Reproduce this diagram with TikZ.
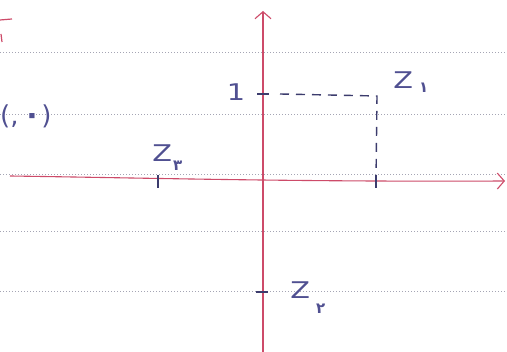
\documentclass[tikz,border=0pt]{standalone}
\usepackage{fontspec}
\setmainfont{DejaVu Sans}
\usetikzlibrary{arrows.meta}
\definecolor{axisred}{RGB}{205,75,105}
\definecolor{ink}{RGB}{80,80,145}
\definecolor{rulegray}{RGB}{165,165,180}
\tikzset{
  ruleline/.style={rulegray, dotted, line width=1pt},
  axis/.style={axisred, line width=1.1pt, -{Straight Barb[length=7pt,width=16pt,line width=1.1pt]}},
  tick/.style={ink!75!black, line width=1.4pt},
  guide/.style={ink!75!black, line width=1.4pt, dash pattern=on 9pt off 7pt},
  lab/.style={ink, inner sep=0pt, xscale=1.25, font=\fontsize{23}{24}\selectfont},
  sub/.style={ink, inner sep=0pt, font=\bfseries\fontsize{15}{16}\selectfont}
}
\begin{document}
\begin{tikzpicture}[x=1pt,y=-1pt]
\useasboundingbox (0,0) rectangle (507,352);
% ruled notebook lines
\foreach \yy in {53,115,175,232,292}
  \draw[ruleline] (0,\yy) -- (507,\yy);
% axes
\coordinate (xl) at (10,176);
\coordinate (xr) at (505,181);
\coordinate (yb) at (263,352);
\coordinate (yt) at (263,11);
\draw[axis] (xl) .. controls (150,178) and (300,182) .. (xr);
\draw[axis] (yb) -- (yt);
% points
\coordinate (one) at (263,94);
\coordinate (z1) at (377,96);
\coordinate (z1x) at (376,181);
\coordinate (z3) at (158,181);
\coordinate (z2) at (263,292);
% ticks
\draw[tick] ([xshift=-6pt]one) -- ([xshift=6pt]one);
\draw[tick] ([yshift=-7pt]z1x) -- ([yshift=6pt]z1x);
\draw[tick] ([yshift=-7pt]z3) -- ([yshift=6pt]z3);
\draw[tick] ([xshift=-7pt]z2) -- ([xshift=5pt]z2);
% dashed guides
\draw[guide] ([xshift=17pt]one) -- (z1) -- (z1x);
% labels
\node[lab] (l1) at (236,92) {1};
\node[lab, anchor=west] (z1lab) at (393,80) {Z};
\node[sub, anchor=west] (z1sub) at (419,88) {۱};
\node[lab, anchor=west] (z3lab) at (152,153) {Z};
\node[sub, anchor=west] (z3sub) at (173,166) {۳};
\node[lab, anchor=west] (z2lab) at (290,290) {Z};
\node[sub, anchor=west] (z2sub) at (316,309) {۲};
\node[ink, inner sep=0pt, anchor=west, font=\fontsize{26}{28}\selectfont] (orig) at (0,116) {(,\,{\bfseries\fontsize{30}{30}\selectfont ۰})};
% red partial mark at top-left
\draw[axisred, line width=1.2pt] (0,20) -- (12,19);
\draw[axisred, line width=1.2pt] (1,34) -- (2,42);
\end{tikzpicture}
\end{document}
